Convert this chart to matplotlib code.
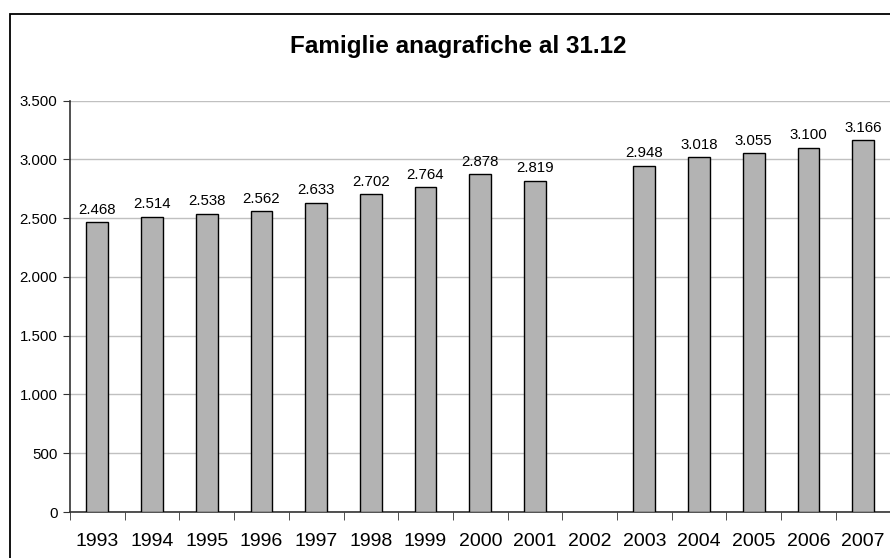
import matplotlib
matplotlib.use("Agg")
import matplotlib.pyplot as plt
from matplotlib.patches import Rectangle
from matplotlib.ticker import FuncFormatter, FixedLocator
import numpy as np

plt.rcParams['font.family'] = ['Liberation Sans', 'DejaVu Sans']

years = ["1993", "1994", "1995", "1996", "1997", "1998", "1999", "2000",
         "2001", "2002", "2003", "2004", "2005", "2006", "2007"]
famiglie = [2468, 2514, 2538, 2562, 2633, 2702, 2764, 2878,
            2819, None, 2948, 3018, 3055, 3100, 3166]
title = "Famiglie anagrafiche al 31.12"

W, H = 890, 558
fig = plt.figure(figsize=(W / 100, H / 100), dpi=100)

# outer chart border (cropped on right and bottom in the original)
fig.patches.append(Rectangle((10 / W, -0.1), 1.2, (H - 14) / H + 0.1,
                             transform=fig.transFigure, fill=False,
                             edgecolor='black', linewidth=1.3))

ax = fig.add_axes([70 / W, (H - 512) / H, 820.5 / W, 411.3 / H])

x = [i for i, v in enumerate(famiglie) if v is not None]
vals = [v for v in famiglie if v is not None]
ax.bar(x, vals, width=0.4, color='#b3b3b3', edgecolor='black', linewidth=1, zorder=3)

def fmt(v):
    return f"{int(v):,}".replace(",", ".")

for xi, v in zip(x, vals):
    ax.text(xi, v + 45, fmt(v), ha='center', va='bottom', fontsize=10.8)

ax.set_xlim(-0.5, len(years) - 0.5)
ax.set_ylim(0, 3500)
ax.set_yticks(np.arange(0, 3501, 500))
ax.yaxis.set_major_formatter(FuncFormatter(lambda v, p: fmt(v)))
ax.set_xticks(range(len(years)))
ax.set_xticklabels(years, fontsize=14)
ax.xaxis.set_minor_locator(FixedLocator(np.arange(-0.5, len(years), 1)))
ax.tick_params(axis='x', which='major', length=0, pad=15)
ax.tick_params(axis='x', which='minor', length=6, color='#333333')
ax.tick_params(axis='y', length=5, color='#333333', labelsize=10.8, pad=4)

ax.grid(True, axis='y', color='#c0c0c0', linewidth=1, zorder=0)
for s in ['top', 'right']:
    ax.spines[s].set_visible(False)
for s in ['left', 'bottom']:
    ax.spines[s].set_color('#333333')
    ax.spines[s].set_linewidth(1.2)

fig.text(458 / W, 1 - 46 / H, title, ha='center', va='center',
         fontsize=17.5, fontweight='bold')

fig.savefig("out.png", dpi=100)
